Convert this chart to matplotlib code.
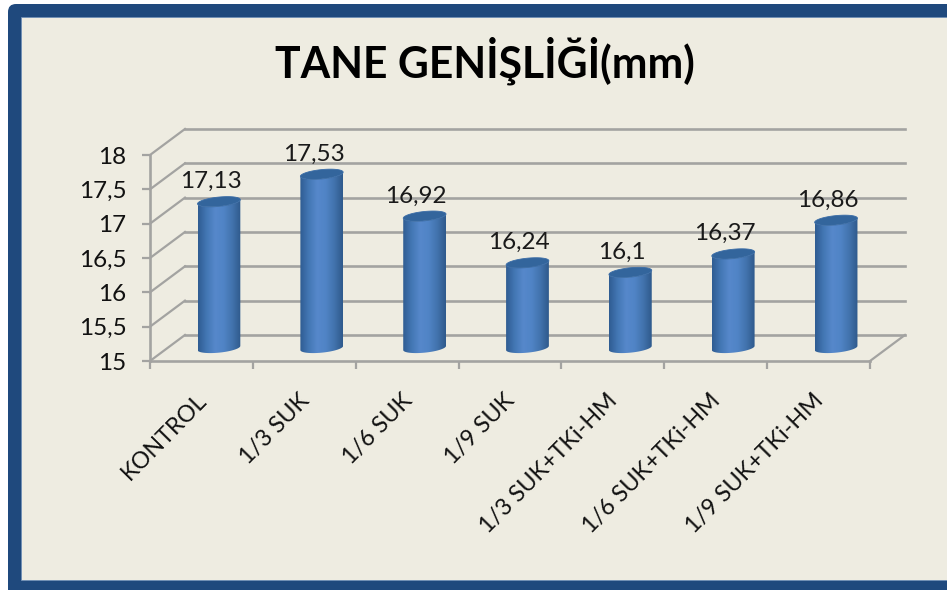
import numpy as np
import matplotlib
matplotlib.use('Agg')
import matplotlib.pyplot as plt
from matplotlib.colors import LinearSegmentedColormap
from matplotlib.patches import FancyBboxPatch, PathPatch, Polygon, Rectangle
from matplotlib.path import Path
from matplotlib.transforms import IdentityTransform

categories = ['KONTROL', '1/3 SUK', '1/6 SUK', '1/9 SUK',
              '1/3 SUK+TKi-HM', '1/6 SUK+TKi-HM', '1/9 SUK+TKi-HM']
values = [17.13, 17.53, 16.92, 16.24, 16.1, 16.37, 16.86]
value_labels = ['17,13', '17,53', '16,92', '16,24', '16,1', '16,37', '16,86']
y_ticks = [15, 15.5, 16, 16.5, 17, 17.5, 18]
y_labels = ['15', '15,5', '16', '16,5', '17', '17,5', '18']

plt.rcParams['font.family'] = ['Lato', 'DejaVu Sans']
GREY = '#a3a3a1'
DEPTH_X = 0.34
DEPTH_Y = 0.379

fig = plt.figure(figsize=(9.47, 5.9), dpi=100, facecolor='white')

# blue frame, runs off the right and bottom of the picture
outer = FancyBboxPatch((14, -30), 1000, 610, boxstyle='round,pad=6,rounding_size=8',
                       transform=IdentityTransform(), fc='#1f497d', ec='none', zorder=-3)
fig.add_artist(outer)
fig.add_artist(Rectangle((20.5, 10), 1000, 563.5, transform=IdentityTransform(),
                         fc='#eeece1', ec='#6f8fb5', lw=0.6, zorder=-2))

ax = fig.add_axes([150 / 947, (590 - 361) / 590, 720 / 947, 206 / 590])
ax.patch.set_alpha(0)
ax.set_xlim(0, 7)
ax.set_ylim(15, 18)

for s in ['top', 'right']:
    ax.spines[s].set_visible(False)
for s in ['left', 'bottom']:
    ax.spines[s].set_color(GREY)
    ax.spines[s].set_linewidth(1.9)

ax.set_yticks(y_ticks)
ax.set_yticklabels(y_labels, fontsize=17.5, color='#111111')
ax.set_xticks(range(8))
ax.set_xticklabels([])
ax.tick_params(axis='both', color=GREY, width=1.6, length=6)
ax.tick_params(axis='y', pad=11)

# back wall and side wall lines
for v in y_ticks:
    ax.plot([DEPTH_X, 7 + DEPTH_X], [v + DEPTH_Y, v + DEPTH_Y], color=GREY, lw=1.9,
            clip_on=False, zorder=1)
    ax.plot([0, DEPTH_X], [v, v + DEPTH_Y], color=GREY, lw=1.6, clip_on=False, zorder=1)
ax.plot([7, 7 + DEPTH_X], [15, 15 + DEPTH_Y], color=GREY, lw=1.6, clip_on=False, zorder=1)

# cylinders
cyl = LinearSegmentedColormap.from_list('cyl', ['#2f5c92', '#4377b4', '#5688cb', '#5084c6',
                                                '#4273ad', '#2f5a8c'])
grad = np.linspace(0, 1, 128).reshape(1, -1)
half_w = 0.208
cap_h = 0.068
tilt = 0.03
t = np.linspace(0, 2 * np.pi, 80)
base = 15 + DEPTH_Y / 2


def ell(cx, cy, tt):
    return cx + half_w * np.cos(tt), cy + cap_h * np.sin(tt) + tilt * np.cos(tt)


for i, v in enumerate(values):
    cx = i + 0.5 + DEPTH_X / 2
    top = v + DEPTH_Y / 2
    # side of the cylinder: lower half of the base, then back over the top
    tl = np.linspace(np.pi, 2 * np.pi, 40)
    xb, yb = ell(cx, base, tl)
    xt, yt = ell(cx, top, tl[::-1])
    body = Polygon(np.column_stack([np.r_[xb, xt], np.r_[yb, yt]]), closed=True,
                   fc='none', ec='none', transform=ax.transData)
    ax.add_patch(body)
    im = ax.imshow(grad, cmap=cyl, aspect='auto', zorder=3, interpolation='bilinear',
                   extent=[cx - half_w, cx + half_w, base - 0.15, top + 0.15])
    im.set_clip_path(body)
    xc, yc = ell(cx, top, t)
    ax.add_patch(PathPatch(Path(np.column_stack([xc, yc])), fc='#33659c', ec='#3a6ca6',
                           lw=0.6, zorder=4))
    ax.annotate(value_labels[i], (cx, top), xytext=(-6, 7), textcoords='offset points',
                ha='center', va='bottom', fontsize=17.5, color='#1a1a1a', zorder=5,
                annotation_clip=False)
    ax.annotate(categories[i], (i + 0.5, 15), xytext=(1, -26), textcoords='offset points',
                ha='right', va='center', rotation=45.5, rotation_mode='anchor',
                fontsize=16.8, color='#111111', annotation_clip=False)

ax.set_xlim(0, 7)
ax.set_ylim(15, 18)

fig.text(485 / 947, (590 - 61) / 590, 'TANE GENİŞLİĞİ(mm)', ha='center', va='center',
         fontsize=30.7, fontweight='bold', color='#000000')

fig.savefig('out.png', dpi=100)
